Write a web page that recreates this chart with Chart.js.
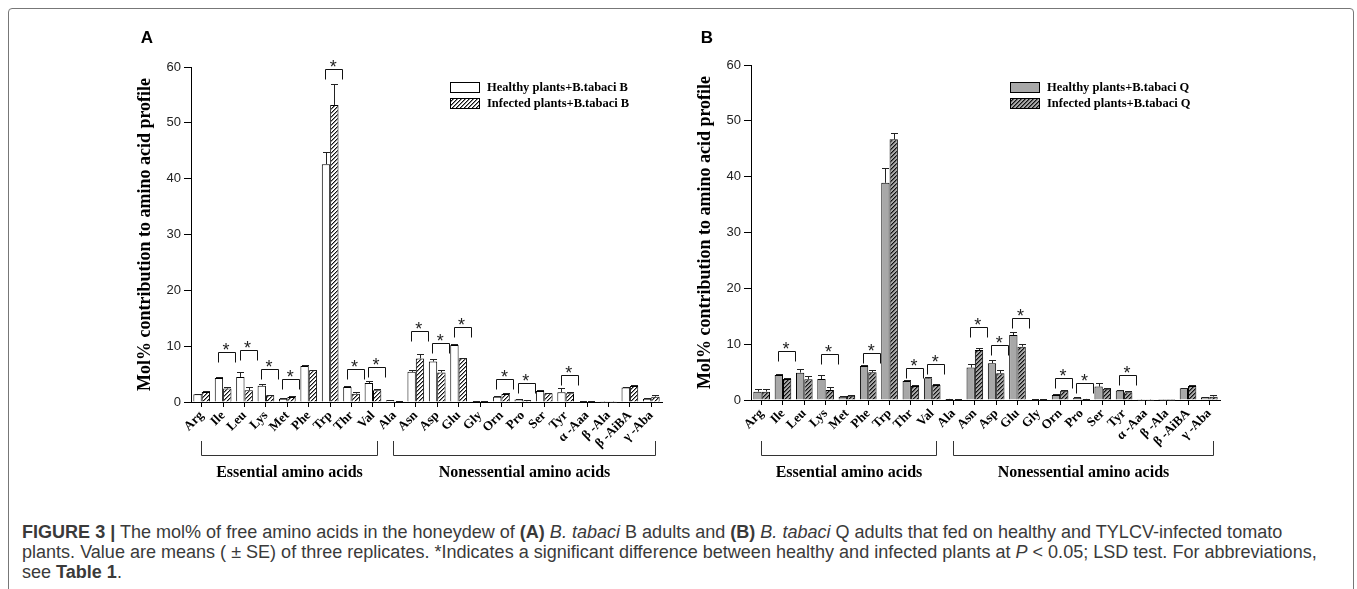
<!DOCTYPE html>
<html><head><meta charset="utf-8">
<script src="https://cdn.jsdelivr.net/npm/chart.js@4.4.1/dist/chart.umd.min.js"></script>
<style>
html,body{margin:0;padding:0;background:#fff;width:1357px;height:589px;overflow:hidden;position:relative;}
#frame{position:absolute;left:8px;top:8px;width:1346px;height:620px;border:1px solid #777;border-radius:4px;box-sizing:border-box;}
.cv{position:absolute;top:0;width:680px;height:500px;}
#caption{position:absolute;left:22px;top:522px;font-family:"Liberation Sans",Arial,sans-serif;color:#3a3a3a;font-size:16px;line-height:20px;white-space:nowrap;}
#caption div{white-space:nowrap;}
#caption span.l{display:inline-block;}
</style></head><body>
<div id="frame"></div>
<div class="cv" style="left:0px"><canvas id="cA" width="680" height="500"></canvas></div>
<div class="cv" style="left:560px"><canvas id="cB" width="680" height="500"></canvas></div>
<div id="caption">
<div><span class="l" id="l1"><b>FIGURE 3 |</b> The mol% of free amino acids in the honeydew of <b>(A)</b> <i>B. tabaci</i> B adults and <b>(B)</b> <i>B. tabaci</i> Q adults that fed on healthy and TYLCV-infected tomato</span></div>
<div><span class="l">plants. Value are means ( ± SE) of three replicates. *Indicates a significant difference between healthy and infected plants at <i>P</i> &lt; 0.05; LSD test. For abbreviations,</span></div>
<div><span class="l">see <b>Table 1</b>.</span></div>
</div>
<script>
// ---------- data ----------
const categories = ['Arg','Ile','Leu','Lys','Met','Phe','Trp','Thr','Val','Ala','Asn','Asp','Glu','Gly','Orn','Pro','Ser','Tyr','α -Aaa','β -Ala','β -AiBA','γ -Aba'];
const groupNames = ['Essential amino acids','Nonessential amino acids'];
const groupStart = [0, 9];
const groupEnd = [8, 21];
const yTicks = [0,10,20,30,40,50,60];

// Panel A: B. tabaci B
const healthyB    = [1.4,4.3,4.5,2.9,0.6,6.45,42.6,2.7,3.4,0.3,5.4,7.25,10.2,0.15,0.95,0.45,1.95,1.75,0.1,0.05,2.6,0.6];
const healthyBse  = [0.1,0.2,0.8,0.4,0.1,0.15,2.2,0.15,0.3,0.05,0.3,0.4,0.15,0.05,0.1,0.1,0.2,0.7,0.02,0.02,0.15,0.1];
const infectedB   = [1.8,2.4,2.1,1.2,0.9,5.7,53.2,1.5,2.1,0.15,7.8,5.3,7.85,0.15,1.45,0.25,1.55,1.55,0.1,0.05,2.85,0.95];
const infectedBse = [0.1,0.3,0.6,0.1,0.1,0.1,3.8,0.3,0.15,0.03,0.8,0.35,0.1,0.03,0.15,0.05,0.15,0.2,0.02,0.02,0.15,0.3];
const sigTopB     = [null,9.0,9.4,6.0,4.2,null,59.6,6.0,6.3,null,12.7,10.5,13.5,null,4.1,3.35,null,4.85,null,null,null,null];

// Panel B: B. tabaci Q
const healthyQ    = [1.5,4.5,4.9,3.75,0.6,6.1,38.9,3.4,3.9,0.2,5.8,6.6,11.65,0.1,0.9,0.4,2.4,1.7,0.05,0.02,2.1,0.5];
const healthyQse  = [0.5,0.1,0.65,0.65,0.05,0.2,2.6,0.2,0.25,0.03,0.7,0.6,0.6,0.02,0.1,0.05,0.6,0.1,0.02,0.01,0.1,0.05];
const infectedQ   = [1.5,3.75,3.7,1.8,0.75,4.95,46.7,2.5,2.7,0.15,8.95,4.8,9.55,0.1,1.65,0.2,2.0,1.4,0.05,0.02,2.5,0.6];
const infectedQse = [0.5,0.15,0.6,0.5,0.1,0.45,1.1,0.1,0.1,0.02,0.3,0.6,0.45,0.02,0.1,0.05,0.1,0.3,0.02,0.01,0.15,0.35];
const sigTopQ     = [null,8.8,null,8.2,null,8.4,null,5.7,6.4,null,13.0,9.85,14.6,null,3.9,3.0,null,4.5,null,null,null,null];

// ---------- styling helpers ----------
function hatch(bg){
  const c=document.createElement('canvas'); c.width=4; c.height=4;
  const x=c.getContext('2d');
  x.fillStyle=bg; x.fillRect(0,0,4,4);
  x.fillStyle='#111';
  for(let i=0;i<4;i++) x.fillRect(i,3-i,1,1);
  x.fillStyle='rgba(0,0,0,0.45)';
  for(let i=0;i<4;i++) x.fillRect(i,(4-i)%4,1,1);
  return x.createPattern(c,'repeat');
}

const extras = {
  id:'extras',
  afterDatasetsDraw(chart){
    const ctx=chart.ctx, ys=chart.scales.y, xs=chart.scales.x;
    const o=chart.options.plugins.extras;
    ctx.save();
    // error bars
    chart.data.datasets.forEach((ds,di)=>{
      const meta=chart.getDatasetMeta(di);
      meta.data.forEach((el,i)=>{
        const top=ys.getPixelForValue(ds.data[i]+ds.se[i]);
        ctx.strokeStyle='#222'; ctx.lineWidth=1;
        ctx.beginPath();
        ctx.moveTo(Math.round(el.x)+0.5, el.y);
        ctx.lineTo(Math.round(el.x)+0.5, Math.round(top)+0.5);
        ctx.moveTo(Math.round(el.x)-3, Math.round(top)+0.5);
        ctx.lineTo(Math.round(el.x)+4, Math.round(top)+0.5);
        ctx.stroke();
      });
    });
    // significance brackets
    ctx.font='18px "Liberation Sans", Arial, sans-serif';
    const m=ctx.measureText('*');
    o.sig.forEach((v,i)=>{
      if(v==null) return;
      const cx=xs.getPixelForValue(i);
      const ty=Math.round(ys.getPixelForValue(v))+0.5;
      const l=Math.round(cx-5)+0.5, r=Math.round(cx+12)+0.5;
      ctx.strokeStyle='#111'; ctx.lineWidth=1;
      ctx.beginPath();
      ctx.moveTo(l,ty+10); ctx.lineTo(l,ty); ctx.lineTo(r,ty); ctx.lineTo(r,ty+10);
      ctx.stroke();
      ctx.fillStyle='#222'; ctx.textAlign='center'; ctx.textBaseline='alphabetic';
      ctx.fillText('*', cx+3, ty-3-m.actualBoundingBoxDescent);
    });
    ctx.restore();
  },
  afterDraw(chart){
    const ctx=chart.ctx, xs=chart.scales.x;
    const o=chart.options.plugins.extras;
    ctx.save();
    // group brackets
    ctx.strokeStyle='#333'; ctx.lineWidth=1;
    ctx.fillStyle='#000';
    ctx.font='bold 16px "Liberation Serif", "Times New Roman", serif';
    ctx.textAlign='center'; ctx.textBaseline='middle';
    groupNames.forEach((g,k)=>{
      const l=Math.round(xs.getPixelForValue(groupStart[k])-1)+0.5;
      const r=Math.round(xs.getPixelForValue(groupEnd[k])+4)+0.5;
      ctx.beginPath();
      ctx.moveTo(l,441); ctx.lineTo(l,455.5); ctx.lineTo(r,455.5); ctx.lineTo(r,441);
      ctx.stroke();
      ctx.fillText(g,(l+r)/2,473);
    });
    // panel letter
    ctx.font='bold 17px "Liberation Sans", Arial, sans-serif';
    ctx.fillText(o.letter,147,38);
    // legend
    ctx.font='bold 12.5px "Liberation Serif", "Times New Roman", serif';
    ctx.textAlign='left';
    chart.data.datasets.forEach((ds,di)=>{
      const y=82+di*16;
      ctx.fillStyle=ds.backgroundColor;
      ctx.fillRect(450,y,29,10);
      ctx.strokeStyle='#000';
      ctx.strokeRect(450.5,y+0.5,29,10);
      ctx.fillStyle='#000';
      ctx.fillText(ds.label,487,y+5.5);
    });
    ctx.restore();
  }
};

function build(id,p){
  return new Chart(document.getElementById(id),{
    type:'bar',
    data:{labels:categories,datasets:[
      {label:p.labels[0],data:p.h,se:p.hse,backgroundColor:p.hFill,borderColor:'#000',borderWidth:1,categoryPercentage:0.78,barPercentage:1},
      {label:p.labels[1],data:p.i,se:p.ise,backgroundColor:p.iFill,borderColor:'#000',borderWidth:1,categoryPercentage:0.78,barPercentage:1}
    ]},
    options:{
      responsive:false,animation:false,events:[],
      layout:{padding:{left:130,right:p.padRight,top:p.top,bottom:p.padBottom}},
      plugins:{legend:{display:false},tooltip:{enabled:false},extras:{sig:p.sig,letter:p.letter}},
      scales:{
        x:{
          grid:{display:true,drawOnChartArea:false,offset:false,tickLength:5,color:'#000'},
          border:{display:true,color:'#000',width:1},
          ticks:{autoSkip:false,minRotation:45,maxRotation:45,padding:1,color:'#000',
                 font:{family:'"Liberation Serif", "Times New Roman", serif',weight:'bold',size:13}},
          afterFit(s){s.height=60;}
        },
        y:{
          min:0,max:60,
          afterBuildTicks(s){s.ticks=yTicks.map(v=>({value:v}));},
          ticks:{padding:3,color:'#222',font:{family:'"Liberation Sans", Arial, sans-serif',size:13}},
          grid:{drawOnChartArea:false,tickLength:7,color:'#000'},
          border:{display:true,color:'#000',width:1},
          title:{display:true,text:'Mol% contribution to amino acid profile',color:'#000',
                 font:{family:'"Liberation Serif", "Times New Roman", serif',weight:'bold',size:18},
                 padding:{top:5,bottom:0}},
          afterFit(s){s.width=61;}
        }
      }
    },
    plugins:[extras]
  });
}

build('cA',{labels:['Healthy plants+B.tabaci B','Infected plants+B.tabaci B'],
  h:healthyB,hse:healthyBse,i:infectedB,ise:infectedBse,sig:sigTopB,letter:'A',
  hFill:'#ffffff',iFill:hatch('#ffffff'),top:67,padBottom:38,padRight:18});
build('cB',{labels:['Healthy plants+B.tabaci Q','Infected plants+B.tabaci Q'],
  h:healthyQ,hse:healthyQse,i:infectedQ,ise:infectedQse,sig:sigTopQ,letter:'B',
  hFill:'#a8a8a8',iFill:hatch('#a8a8a8'),top:65,padBottom:40,padRight:20});

// caption sizing to match the reference line width
(function(){
  const l1=document.getElementById('l1');
  const w=l1.getBoundingClientRect().width;
  const size=16*1261/w;
  document.getElementById('caption').style.fontSize=size.toFixed(2)+'px';
})();
</script>
</body></html>
